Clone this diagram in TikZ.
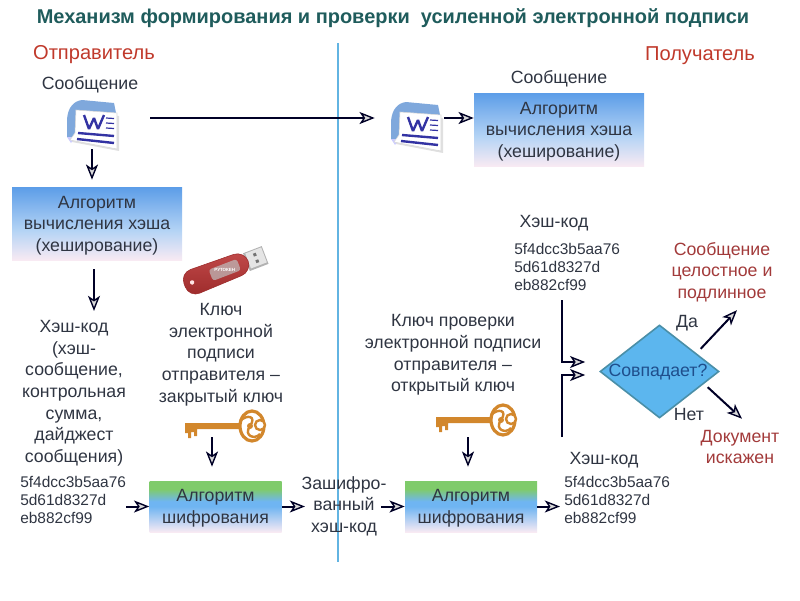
\documentclass[tikz,border=0pt]{standalone}
\usepackage{fontspec}
\setmainfont{Liberation Sans}
\usetikzlibrary{arrows.meta,shapes.geometric}
\definecolor{titleteal}{HTML}{1F5C5C}
\definecolor{sidered}{HTML}{C0392B}
\definecolor{darkred}{HTML}{A23A3A}
\definecolor{bodytext}{HTML}{2F3542}
\definecolor{keygold}{HTML}{D2872C}
\definecolor{splitblue}{HTML}{62B4E2}
\definecolor{matchblue}{HTML}{5CB6EE}
\definecolor{matchedge}{HTML}{4A8FA8}
\definecolor{matchtextblue}{HTML}{1F4E8C}
\definecolor{hashtop}{HTML}{5C9DE8}
\definecolor{hashmid}{HTML}{B5D4F5}
\definecolor{hashend}{HTML}{F8EAF3}
\definecolor{ciphergreen}{HTML}{7FCB6B}
\definecolor{cipherblue}{HTML}{6FB5F2}
\definecolor{wordblue}{HTML}{7FA8DC}
\definecolor{usbdark}{HTML}{9C2A2A}
\definecolor{usblight}{HTML}{C24A4A}
\pgfdeclareverticalshading{hashfill}{100bp}{color(0bp)=(hashend); color(25bp)=(hashend); color(45bp)=(hashmid); color(75bp)=(hashtop); color(100bp)=(hashtop)}
\pgfdeclareverticalshading{cipherfill}{100bp}{color(0bp)=(hashend); color(25bp)=(hashend); color(50bp)=(cipherblue); color(55bp)=(cipherblue); color(67bp)=(ciphergreen); color(100bp)=(ciphergreen)}
\tikzset{
	plain/.style={text=bodytext, align=center, font=\fontsize{12.6}{15.4}\selectfont, inner sep=0pt, yshift=-0.5mm},
	hashcode/.style={text=bodytext, align=left, font=\fontsize{11}{12.8}\selectfont, inner sep=0pt},
	redtext/.style={plain, text=darkred},
	sidetext/.style={plain, text=sidered, font=\fontsize{14.3}{16}\selectfont},
	hashbox/.style={inner sep=0pt, shading=hashfill, minimum width=170*0.25mm, minimum height=73*0.25mm},
	cipherbox/.style={inner sep=0pt, shading=cipherfill, minimum width=132*0.25mm, minimum height=51*0.25mm},
	iconspot/.style={inner sep=0pt, minimum size=12mm},
	keyspot/.style={inner sep=0pt, minimum width=17mm, minimum height=4.5mm},
	flow/.style={line width=0.5mm, color=black!85!blue, -{Stealth[length=3.8mm, width=3mm, inset=1mm, fill=black!15, line width=0.35mm]}},
	wordicon/.pic={
		\fill[black!12] (-21,-13) -- (27,-9) -- (27,26) -- (-20,17) -- cycle;
		\fill[wordblue] (-25,-6) .. controls (-24,-18) and (-18,-24) .. (-10,-25) -- (22,-22) -- (24,-12) -- (-12,-14) -- (-17,12) -- (-25,12) -- cycle;
		\fill[blue!20!white] (-25,12) -- (-17,12) -- (-21,18) -- cycle;
		\fill[white, draw=black!15] (-16,-15) -- (25,-12) -- (25,24) -- (-22,15) -- (-17,8) -- cycle;
		\draw[line width=0.6mm, blue!55!black!80!white, line join=bevel] (-8,-10) -- (-3,4) -- (2,-7) -- (6,4) -- (12,-10);
		\foreach \liney in {-7,-2,3} \draw[line width=0.3mm, blue!55!black!80!white] (14,\liney) -- (22,\liney+0.5);
		\draw[line width=0.6mm, blue!55!black!80!white] (-14,8) -- (22,11);
		\draw[line width=0.6mm, blue!55!black!80!white] (-15,14) -- (22,18);
	},
	keyicon/.pic={
		\fill[keygold] (-50,-3) -- (5,-3) -- (5,3) -- (-38,3) -- (-38,10) -- (-41,10) -- (-41,6) -- (-44,6) -- (-44,12) -- (-47,12) -- (-47,7) -- (-50,7) -- cycle;
		\draw[keygold, line width=0.8mm, fill=white] (17,0) ellipse (12 and 15);
		\draw[keygold, line width=0.6mm] (5,-5) .. controls (12,-12) and (22,-10) .. (15,0) .. controls (8,10) and (20,14) .. (25,8);
		\draw[keygold, line width=0.6mm, fill=white] (25,-1) circle (5);
		\fill[keygold] (15,0) circle (3);
	},
	usbicon/.pic={
		\fill[black!30] (26,-9) rectangle (46,10);
		\fill[black!10] (28,-8) rectangle (45,8);
		\fill[black!55] (35,-5) rectangle (38,-2);
		\fill[black!55] (35,2) rectangle (38,5);
		\draw[top color=usblight, bottom color=usbdark, draw=usbdark, rounded corners=8pt] (-40,-13) -- (28,-11) -- (28,11) -- (-40,13) -- cycle;
		\fill[black!25, opacity=0.7, rounded corners=2pt] (-12,-6) rectangle (18,6);
		\node[text=white, font=\fontsize{3.2}{4}\selectfont\bfseries, inner sep=0pt] (usbmark) at (3,0) {РУТОКЕН};
		\fill[white!90!red] (-32,0) circle (2.2);
	}
}

\begin{document}
\begin{tikzpicture}[x=0.25mm,y=-0.25mm]
	%%%%% START %%%%%
	\useasboundingbox (0,0) rectangle (800,600);

	\node[text=titleteal, inner sep=0pt, font=\fontsize{14.2}{16}\selectfont\bfseries] (title) at (393,18) {Механизм формирования и проверки \ усиленной электронной подписи};
	\node[sidetext] (sender) at (94,53) {Отправитель};
	\node[sidetext] (receiver) at (700,54) {Получатель};

	\coordinate (splittop) at (338,43);
	\coordinate (splitbottom) at (338,562);
	\draw[line width=0.4mm, color=splitblue] (splittop) -- (splitbottom);

	% sender side
	\node[plain] (msgleft) at (90,83) {Сообщение};
	\node[iconspot] (wordleft) at (92,125) {};
	\pic at (wordleft) {wordicon};
	\node[hashbox] (hashleft) at (97,223.5) {};
	\node[plain] (hashlefttext) at (hashleft) {Алгоритм\\вычисления хэша\\(хеширование)};
	\node[plain, anchor=north] (codename) at (74,318) {Хэш-код\\(хэш-\\сообщение,\\контрольная\\сумма,\\дайджест\\сообщения)};
	\node[hashcode, anchor=west] (codeleft) at (20,500) {5f4dcc3b5aa76\\5d61d8327d\\eb882cf99};
	\node[minimum width=18mm, minimum height=10mm, inner sep=0pt] (usbkey) at (222,271) {};
	\pic[rotate=21] at (usbkey) {usbicon};
	\node[plain, anchor=north] (privatetext) at (221,301) {Ключ\\электронной\\подписи\\отправителя --\\закрытый ключ};
	\node[keyspot] (keyleft) at (212,428) {};
	\pic at (235,426) {keyicon};
	\node[cipherbox] (cipherleft) at (215.5,506.5) {};
	\node[plain] (cipherlefttext) at (cipherleft) {Алгоритм\\шифрования};

	% middle
	\node[plain] (cipheredtext) at (344,504) {Зашифро-\\ванный\\хэш-код};

	% receiver side
	\node[plain] (msgright) at (559,77) {Сообщение};
	\node[iconspot] (wordright) at (416,127) {};
	\pic at (wordright) {wordicon};
	\node[hashbox] (hashright) at (559,129.5) {};
	\node[plain] (hashrighttext) at (hashright) {Алгоритм\\вычисления хэша\\(хеширование)};
	\node[plain] (codetop) at (554,221) {Хэш-код};
	\node[hashcode, anchor=west] (hashtop) at (514,267) {5f4dcc3b5aa76\\5d61d8327d\\eb882cf99};
	\node[plain] (publictext) at (453,353) {Ключ проверки\\электронной подписи\\отправителя --\\открытый ключ};
	\node[keyspot] (keyright) at (468,428) {};
	\pic at (486,420) {keyicon};
	\node[cipherbox] (cipherright) at (471,506.5) {};
	\node[plain] (cipherrighttext) at (cipherright) {Алгоритм\\шифрования};
	\node[plain] (codebottom) at (604,458) {Хэш-код};
	\node[hashcode, anchor=west] (hashbottom) at (564,500) {5f4dcc3b5aa76\\5d61d8327d\\eb882cf99};

	\node[diamond, draw=matchedge, line width=0.4mm, fill=matchblue, minimum width=119*0.25mm, minimum height=93*0.25mm, inner sep=0pt, aspect=1.28] (match) at (659.5,371.5) {};
	\node[plain, text=matchtextblue] (matchtext) at (658,370) {Совпадает?};
	\node[redtext] (oktext) at (722,270) {Сообщение\\целостное и\\подлинное};
	\node[plain] (yes) at (687,321) {Да};
	\node[plain] (no) at (689,412) {Нет};
	\node[redtext] (badtext) at (740,445) {Документ\\искажен};

	% free ends of the connectors
	\coordinate (codetip) at (94,311);
	\coordinate (sendlane) at (0,118);
	\coordinate (cipheredin) at (305,506.5);
	\coordinate (cipheredout) at (381,506.5);
	\coordinate (stemtop) at (562,300);
	\coordinate (stembottom) at (562,437);
	\coordinate (tipupper) at ([shift={(-14,-9.5)}]match.west);
	\coordinate (tiplower) at ([shift={(-14,3.5)}]match.west);

	% connectors
	\draw[flow, shorten >=1.75mm] (wordleft.south) -- (wordleft.south |- hashleft.north);
	\draw[flow, shorten <=2.25mm] (hashleft.south -| codetip) -- (codetip);
	\draw[flow, shorten <=8.5mm, shorten >=4.25mm] (wordleft.east |- sendlane) -- (wordright.west |- sendlane);
	\draw[flow, shorten <=1mm] (wordright.east |- sendlane) -- (hashright.west |- sendlane);
	\draw[flow, shorten >=3.5mm] (keyleft.south) -- (keyleft.south |- cipherleft.north);
	\draw[flow, shorten >=3.5mm] (keyright.south) -- (keyright.south |- cipherright.north);
	\draw[flow] (codeleft.east |- cipherleft.west) -- (cipherleft.west);
	\draw[flow] (cipherleft.east) -- (cipheredin);
	\draw[flow] (cipheredout) -- (cipherright.west);
	\draw[flow, shorten >=1mm] (cipherright.east) -- (hashbottom.west |- cipherright.east);
	\draw[flow] (stemtop) |- (tipupper);
	\draw[flow] (stembottom) |- (tiplower);
	\draw[flow] ([shift={(11,1)}]match.north east) -- ([shift={(15,8)}]oktext.south);
	\draw[flow] ([shift={(18,-8)}]match.south east) -- ([shift={(2,-11)}]badtext.north);
	%%%%% END %%%%%
\end{tikzpicture}
\end{document}
